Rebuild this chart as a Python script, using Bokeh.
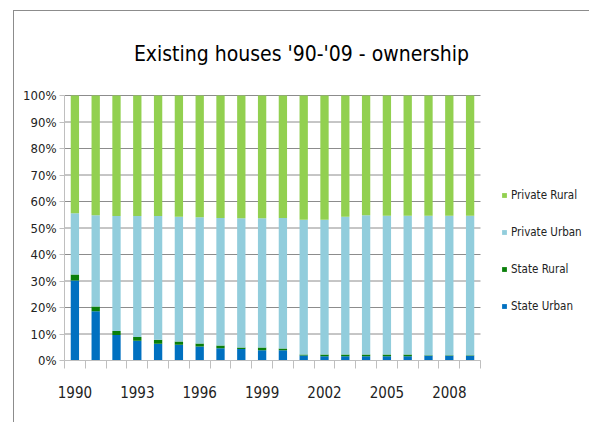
from bokeh.plotting import figure
from bokeh.models import (FixedTicker, LinearAxis, Label, Legend, LegendItem,
                          Range1d, ColumnDataSource)
from bokeh.embed import file_html
from bokeh.resources import INLINE

years = list(range(1990, 2010))
state_urban = [30.2, 18.6, 9.6, 7.5, 6.3, 5.9, 5.3, 4.6, 4.3, 3.9,
               3.9, 1.9, 1.6, 1.6, 1.6, 1.6, 1.6, 1.8, 1.8, 1.8]
state_rural = [2.3, 1.8, 1.5, 1.4, 1.5, 1.3, 1.1, 1.1, 0.6, 1.0,
               0.6, 0.4, 0.7, 0.7, 0.7, 0.7, 0.7, 0.2, 0.2, 0.2]
private_urban = [23.1, 34.4, 43.4, 45.6, 46.7, 47.0, 47.7, 48.1, 48.8, 48.8,
                 49.3, 50.8, 50.8, 51.9, 52.5, 52.3, 52.3, 52.6, 52.6, 52.6]
private_rural = [44.4, 45.2, 45.5, 45.5, 45.5, 45.8, 45.9, 46.2, 46.3, 46.3,
                 46.2, 46.9, 46.9, 45.8, 45.2, 45.4, 45.4, 45.4, 45.4, 45.4]
series = ["State Urban", "State Rural", "Private Urban", "Private Rural"]
keys = ["su", "sr", "pu", "pr"]
colors = ["#0070C0", "#0A7F0A", "#92CDDC", "#92D050"]
y_ticks = list(range(0, 101, 10))
x_label_years = years[::3]
title_text = "Existing houses '90-'09 - ownership"

FONT = "DejaVu Sans Condensed"

# layout (pixels)
W, H = 576, 412
LEFT, BOTTOM = 50, 63
frame_w = W - LEFT
frame_h = H - BOTTOM
px_per_cat = 20.8
px_per_pct = 2.65

x0 = years[0] - 0.5
x1 = years[-1] + 0.5

source = ColumnDataSource(dict(year=years, su=state_urban, sr=state_rural,
                               pu=private_urban, pr=private_rural))

p = figure(width=W, height=H, output_backend="svg", toolbar_location=None,
           x_range=Range1d(x0, x0 + frame_w / px_per_cat),
           y_range=Range1d(0, frame_h / px_per_pct),
           min_border_left=LEFT, min_border_right=0, min_border_top=0,
           min_border_bottom=BOTTOM)
p.margin = (10, 0, 0, 13)
p.styles = {"border-top": "1px solid #8c8c8c", "border-left": "1px solid #8c8c8c"}
p.outline_line_color = None
p.background_fill_color = "white"
p.border_fill_color = "white"
p.xgrid.grid_line_color = None
p.ygrid.grid_line_color = None

# horizontal gridlines limited to the bar area
p.segment(x0=[x0] * len(y_ticks), x1=[x1] * len(y_ticks), y0=y_ticks, y1=y_ticks,
          line_color="#8c8c8c", line_width=1)

renderers = p.vbar_stack(keys, x="year", width=0.4, color=colors,
                         line_color=None, source=source)

# y axis
p.yaxis.ticker = FixedTicker(ticks=y_ticks)
p.yaxis.bounds = (0, 100)
p.yaxis.major_label_overrides = {t: f"{t}%" for t in y_ticks}
p.yaxis.axis_line_color = "#bfbfbf"
p.yaxis.major_tick_line_color = "#bfbfbf"
p.yaxis.major_tick_out = 5
p.yaxis.major_tick_in = 0
p.yaxis.minor_tick_line_color = None
p.yaxis.major_label_text_font = FONT
p.yaxis.major_label_text_font_size = "13px"
p.yaxis.major_label_text_color = "#222222"
p.yaxis.major_label_standoff = 3

# x axis with boundary ticks
bounds = [y - 0.5 for y in years] + [years[-1] + 0.5]
xa = p.xaxis[0]
xa.ticker = FixedTicker(ticks=bounds)
xa.bounds = (x0, x1)
xa.major_label_overrides = {b: "" for b in bounds}
xa.axis_line_color = "#bfbfbf"
xa.major_tick_line_color = "#bfbfbf"
xa.major_tick_out = 8
xa.major_tick_in = 0
xa.minor_tick_line_color = None
xa.major_label_standoff = 0

xb = LinearAxis(ticker=FixedTicker(ticks=x_label_years),
                axis_line_color=None, major_tick_line_color=None,
                minor_tick_line_color=None,
                major_label_text_font=FONT, major_label_text_font_size="15px",
                major_label_text_color="#222222", major_label_standoff=11)
p.add_layout(xb, "below")

legend = Legend(items=[LegendItem(label=s, renderers=[r])
                       for s, r in reversed(list(zip(series, renderers)))],
                location=(437, 44), orientation="vertical",
                glyph_width=6, glyph_height=6, label_text_font=FONT,
                label_text_font_size="11.5px", label_text_color="#222222",
                label_height=20, spacing=17, padding=0, margin=0,
                border_line_color=None, background_fill_alpha=0,
                label_standoff=4)
p.add_layout(legend)

title = Label(x=237, y=307, x_units="screen", y_units="screen", text=title_text,
              text_align="center", text_baseline="alphabetic",
              text_font=FONT, text_font_size="21px", text_color="black")
p.add_layout(title)

open("out.html", "w").write(file_html(p, INLINE))
